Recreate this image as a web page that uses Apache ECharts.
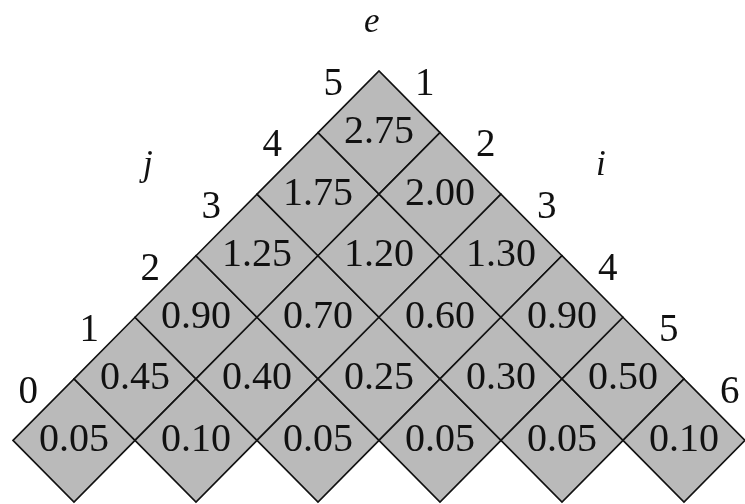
<!DOCTYPE html>
<html>
<head>
<meta charset="utf-8">
<script src="https://cdn.jsdelivr.net/npm/echarts@6/dist/echarts.min.js"></script>
<style>
  html, body { margin: 0; padding: 0; background: #fff; }
  #chart { width: 745px; height: 504px; }
</style>
</head>
<body>
<div id="chart"></div>
<script>
// cost table e[i][j]
const iIdx = [1, 1, 1, 1, 1, 1, 2, 2, 2, 2, 2, 3, 3, 3, 3, 4, 4, 4, 5, 5, 6];
const jIdx = [0, 1, 2, 3, 4, 5, 1, 2, 3, 4, 5, 2, 3, 4, 5, 3, 4, 5, 4, 5, 5];
const eVals = [0.05, 0.45, 0.90, 1.25, 1.75, 2.75,
               0.10, 0.40, 0.70, 1.20, 2.00,
               0.05, 0.25, 0.60, 1.30,
               0.05, 0.30, 0.90,
               0.05, 0.50,
               0.10];
const jTicks = [0, 1, 2, 3, 4, 5];
const iTicks = [1, 2, 3, 4, 5, 6];

const serif = '"Liberation Serif", "DejaVu Serif", serif';

// rotated grid: x = i + j, y = j - i
const cells = eVals.map((v, k) => [iIdx[k] + jIdx[k], jIdx[k] - iIdx[k], v]);
// j labels sit along the left edge of the i = 1 cells
const jLabels = jTicks.map(j => [1 + j - 0.75, j - 1 + 0.78, j]);
// i labels sit along the right edge of the j = 5 cells
const iLabels = iTicks.map(i => [i + 5 + 0.75, 5 - i + 0.78, i]);

const chart = echarts.init(document.getElementById('chart'));

const option = {
  animation: false,
  grid: { left: 13, right: 0, top: 71, bottom: 2 },
  xAxis: { type: 'value', min: 0, max: 12, show: false },
  yAxis: { type: 'value', min: -2, max: 5, show: false },
  graphic: [
    { type: 'text', left: 364, top: 5,
      style: { text: 'e', font: 'italic 35px ' + serif, fill: '#111' } },
    { type: 'text', left: 143, top: 148,
      style: { text: 'j', font: 'italic 35px ' + serif, fill: '#111' } },
    { type: 'text', left: 596, top: 148,
      style: { text: 'i', font: 'italic 35px ' + serif, fill: '#111' } }
  ],
  series: [
    {
      type: 'custom',
      clip: false,
      data: cells,
      renderItem: function (params, api) {
        const x = api.value(0), y = api.value(1);
        const pts = [[x - 1, y], [x, y + 1], [x + 1, y], [x, y - 1]].map(p => api.coord(p));
        const c = api.coord([x, y]);
        return {
          type: 'group',
          children: [
            { type: 'polygon', shape: { points: pts },
              style: { fill: '#bababa', stroke: '#111', lineWidth: 1.6 } },
            { type: 'text', x: c[0], y: c[1],
              style: { text: api.value(2).toFixed(2), font: '40px ' + serif, fill: '#111',
                       align: 'center', verticalAlign: 'middle' } }
          ]
        };
      }
    },
    {
      type: 'custom',
      clip: false,
      data: jLabels.concat(iLabels),
      renderItem: function (params, api) {
        const c = api.coord([api.value(0), api.value(1)]);
        return { type: 'text', x: c[0], y: c[1],
          style: { text: String(api.value(2)), font: '39px ' + serif, fill: '#111',
                   align: 'center', verticalAlign: 'middle' } };
      }
    }
  ]
};

chart.setOption(option);
</script>
</body>
</html>
